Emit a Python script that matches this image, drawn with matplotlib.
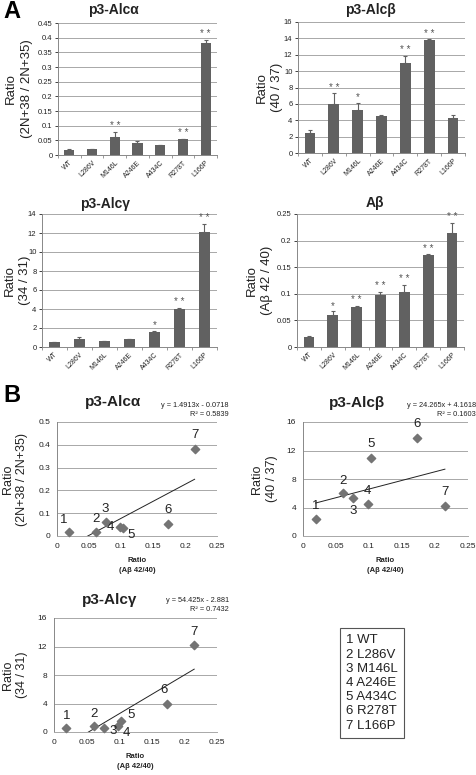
import numpy as np
import matplotlib
matplotlib.use("Agg")
import matplotlib.pyplot as plt
from matplotlib.ticker import FuncFormatter

plt.rcParams['font.family'] = ['Liberation Sans', 'DejaVu Sans']

mutants = ['WT', 'L286V', 'M146L', 'A246E', 'A434C', 'R278T', 'L166P']

# bar values / upper error / significance
alpha_val = [0.017, 0.019, 0.063, 0.040, 0.033, 0.053, 0.383]
alpha_err = [0.002, 0.002, 0.017, 0.007, 0.001, 0.001, 0.010]
alpha_sig = ['', '', '* *', '', '', '* *', '* *']

beta_val = [2.4, 6.0, 5.3, 4.55, 11.0, 13.75, 4.25]
beta_err = [0.35, 1.3, 0.8, 0.1, 0.9, 0.15, 0.35]
beta_sig = ['', '* *', '*', '', '* *', '* *', '']

gamma_val = [0.5, 0.8, 0.6, 0.8, 1.6, 3.95, 12.15]
gamma_err = [0.05, 0.25, 0.03, 0.03, 0.08, 0.15, 0.8]
gamma_sig = ['', '', '', '', '*', '* *', '* *']

abeta_val = [0.019, 0.061, 0.076, 0.098, 0.103, 0.173, 0.215]
abeta_err = [0.001, 0.006, 0.001, 0.006, 0.014, 0.001, 0.018]
abeta_sig = ['', '*', '* *', '* *', '* *', '* *', '* *']

# trend lines (from the figure)
fit_alpha = (1.4913, -0.0718, 0.5839)
fit_beta = (24.265, 4.1618, 0.1603)
fit_gamma = (54.425, -2.881, 0.7432)

bar_color = '#616161'
pt_color = '#747474'
grid_color = '#a8a8a8'
txt = '#222222'

fig = plt.figure(figsize=(4.77, 7.75), dpi=100)
W, H = 477.0, 775.0


def px_axes(x0, y0, x1, y1):
    return fig.add_axes([x0 / W, 1 - y1 / H, (x1 - x0) / W, (y1 - y0) / H])


def fmt(v, pos):
    return '%g' % round(v, 4)


def ylab_px(ax, lab, x1, x2, size):
    # two-line rotated y label placed at pixel columns x1, x2
    pos = ax.get_position()
    yc = (pos.y0 + pos.y1) / 2
    fig.text(x1 / W, yc, 'Ratio', rotation=90, ha='center', va='center',
             fontsize=size, color=txt)
    fig.text(x2 / W, yc, lab, rotation=90, ha='center', va='center',
             fontsize=size, color=txt)


def bar_panel(ax, vals, errs, sigs, ymax, step, title, ylab, title_xy, lab_x):
    x = np.arange(len(mutants))
    ax.bar(x, vals, width=0.45, color=bar_color, zorder=3)
    ax.errorbar(x, vals, yerr=[np.zeros(len(vals)), errs], fmt='none',
                ecolor=bar_color, elinewidth=0.8, capsize=1.5, capthick=0.8, zorder=3)
    for xi, v, e, s in zip(x, vals, errs, sigs):
        if s:
            ax.text(xi, v + e + ymax * 0.005, s, ha='center', va='bottom',
                    fontsize=7, color='#555555')
    ax.set_xlim(-0.5, len(mutants) - 0.5)
    ax.set_ylim(0, ymax)
    ax.set_yticks(np.arange(0, ymax + step / 2, step))
    ax.yaxis.set_major_formatter(FuncFormatter(fmt))
    ax.yaxis.grid(True, color=grid_color, linewidth=0.7, zorder=0)
    ax.set_xticks(x)
    ax.set_xticklabels(mutants, rotation=45, ha='right', rotation_mode='anchor',
                       fontsize=5, color=txt)
    ax.tick_params(axis='y', labelsize=5.5, length=2, width=0.6, colors=txt, pad=2)
    ax.tick_params(axis='x', length=0, pad=3)
    ax.set_xticks(np.arange(-0.5, len(mutants)), minor=True)
    ax.tick_params(axis='x', which='minor', length=2, width=0.6, color='#888888')
    for s in ['top', 'right']:
        ax.spines[s].set_visible(False)
    for s in ['left', 'bottom']:
        ax.spines[s].set_color('#888888')
        ax.spines[s].set_linewidth(0.7)
    fig.text(title_xy[0] / W, 1 - title_xy[1] / H, title, ha='center', va='center',
             fontsize=10, fontweight='bold', color=txt)
    ylab_px(ax, ylab, lab_x[0], lab_x[1], 9.5)


def scatter_panel(ax, yvals, fit, ymax, step, title, ylab, title_xy, eq_xy, offs,
                  lab_x):
    x = np.array(abeta_val)
    ax.scatter(x, yvals, marker='D', s=18, color=pt_color, zorder=3, clip_on=False)
    a, b, r2 = fit
    xl = np.linspace(min(x), max(x), 50)
    ax.plot(xl, a * xl + b, color='#222222', linewidth=0.7, zorder=2)
    for i, (xi, yi) in enumerate(zip(x, yvals)):
        dx, dy = offs[i]
        ax.annotate(str(i + 1), (xi, yi), xytext=(dx, dy), textcoords='offset points',
                    ha='center', va='center', fontsize=9.5, color=txt)
    ax.set_xlim(0, 0.25)
    ax.set_ylim(0, ymax)
    ax.set_xticks(np.arange(0, 0.26, 0.05))
    ax.set_yticks(np.arange(0, ymax + step / 2, step))
    ax.xaxis.set_major_formatter(FuncFormatter(fmt))
    ax.yaxis.set_major_formatter(FuncFormatter(fmt))
    ax.yaxis.grid(True, color=grid_color, linewidth=0.7, zorder=0)
    ax.tick_params(labelsize=6, length=0, colors=txt, pad=5)
    for s in ['top', 'right']:
        ax.spines[s].set_visible(False)
    ax.spines['left'].set_color('#888888')
    ax.spines['bottom'].set_color(grid_color)
    ax.spines['left'].set_linewidth(0.7)
    ax.spines['bottom'].set_linewidth(0.7)
    ax.set_xlabel('Ratio\n(A\u03b2 42/40)', fontsize=5.5, fontweight='bold',
                  color=txt, linespacing=1.7, labelpad=5)
    ylab_px(ax, ylab, lab_x[0], lab_x[1], 9)
    fig.text(title_xy[0] / W, 1 - title_xy[1] / H, title, ha='center', va='center',
             fontsize=11, fontweight='bold', color=txt)
    sign = '-' if b < 0 else '+'
    eq = 'y = %gx %s %g\nR\u00b2 = %g' % (a, sign, abs(b), r2)
    fig.text(eq_xy[0] / W, 1 - eq_xy[1] / H, eq, ha='right', va='center',
             fontsize=5.3, color=txt, linespacing=1.5)


# ---- panel A ----
ax1 = px_axes(58, 23, 217, 155)
bar_panel(ax1, alpha_val, alpha_err, alpha_sig, 0.45, 0.05, 'p3-Alc\u03b1',
          '(2N+38 / 2N+35)', (113, 10), (11, 27))
ax2 = px_axes(298, 22, 465, 153)
bar_panel(ax2, beta_val, beta_err, beta_sig, 16, 2, 'p3-Alc\u03b2',
          '(40 / 37)', (370, 10), (262, 277))
ax3 = px_axes(42, 214, 217, 347)
bar_panel(ax3, gamma_val, gamma_err, gamma_sig, 14, 2, 'p3-Alc\u03b3',
          '(34 / 31)', (105, 204), (10, 25))
ax4 = px_axes(297, 214, 464, 347)
bar_panel(ax4, abeta_val, abeta_err, abeta_sig, 0.25, 0.05, 'A\u03b2',
          '(A\u03b2 42 / 40)', (375, 203), (252, 267))

# ---- panel B ----
ax5 = px_axes(57, 422, 217, 536)
scatter_panel(ax5, alpha_val, fit_alpha, 0.5, 0.1, 'p3-Alc\u03b1',
              '(2N+38 / 2N+35)', (113, 402), (229, 410),
              [(-4, 9), (0, 9), (0, 9), (-7, 0), (6, -5), (0, 10), (0, 10)],
              (8, 22))
ax6 = px_axes(303, 422, 468, 536)
scatter_panel(ax6, beta_val, fit_beta, 16, 4, 'p3-Alc\u03b2',
              '(40 / 37)', (357, 403), (476, 410),
              [(0, 9), (0, 9), (0, -9), (0, 9), (0, 10), (0, 10), (0, 10)],
              (257, 272))
ax7 = px_axes(54, 618, 217, 732)
scatter_panel(ax7, gamma_val, fit_gamma, 16, 4, 'p3-Alc\u03b3',
              '(34 / 31)', (110, 600), (229, 605),
              [(0, 9), (0, 9), (7, -2), (6, -5), (7, 4), (-2, 10), (0, 10)],
              (8, 22))

# legend box
legend_txt = '\n'.join('%d %s' % (i + 1, m) for i, m in enumerate(mutants))
fig.text(346 / W, 1 - 683 / H, legend_txt, ha='left', va='center', fontsize=9.5,
         color=txt, linespacing=1.25,
         bbox=dict(boxstyle='square,pad=0.45', facecolor='white',
                   edgecolor='#555555', linewidth=0.8))

# panel letters
fig.text(3 / W, 1 - 11 / H, 'A', fontsize=17, fontweight='bold', va='center')
fig.text(3 / W, 1 - 396 / H, 'B', fontsize=17, fontweight='bold', va='center')

fig.savefig('out.png', dpi=100)
